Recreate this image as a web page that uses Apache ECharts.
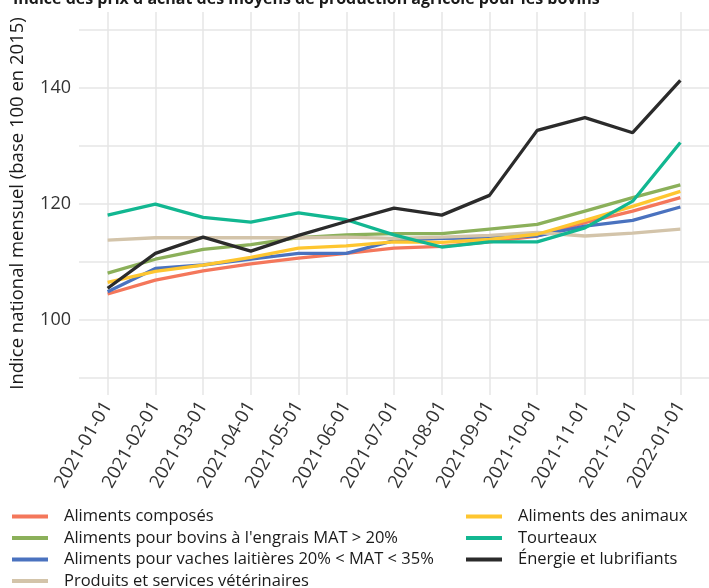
<!DOCTYPE html>
<html>
<head>
<meta charset="utf-8">
<script src="https://cdn.jsdelivr.net/npm/echarts@6/dist/echarts.min.js"></script>
<style>
  html, body { margin: 0; padding: 0; background: #fff; }
  #chart { width: 709px; height: 588px; }
</style>
</head>
<body>
<div id="chart"></div>
<script>
// mois (abscisse)
var dates = ['2021-01-01', '2021-02-01', '2021-03-01', '2021-04-01', '2021-05-01', '2021-06-01',
  '2021-07-01', '2021-08-01', '2021-09-01', '2021-10-01', '2021-11-01', '2021-12-01', '2022-01-01'];

// indices (base 100 en 2015)
var alimentsComposes = [104.4, 106.8, 108.4, 109.6, 110.6, 111.4, 112.3, 112.6, 113.4, 114.4, 116.7, 118.7, 121.0];
var alimentsAnimaux = [106.4, 108.3, 109.4, 110.7, 112.3, 112.7, 113.4, 113.3, 113.8, 114.7, 117.1, 119.5, 122.1];
var alimentsBovins = [108.0, 110.4, 112.1, 112.9, 114.1, 114.6, 114.8, 114.8, 115.6, 116.4, 118.7, 121.0, 123.2];
var tourteaux = [118.0, 119.9, 117.6, 116.8, 118.4, 117.2, 114.6, 112.5, 113.4, 113.4, 115.8, 120.4, 130.5];
var alimentsVaches = [104.8, 108.8, 109.4, 110.4, 111.4, 111.4, 113.6, 114.0, 114.1, 114.4, 116.1, 117.1, 119.4];
var energie = [105.4, 111.4, 114.2, 111.8, 114.5, 116.9, 119.2, 118.0, 121.4, 132.6, 134.8, 132.2, 141.2];
var veterinaires = [113.7, 114.1, 114.1, 114.1, 114.1, 114.2, 114.0, 114.2, 114.5, 115.0, 114.4, 114.9, 115.6];

var yGrid = [90, 100, 110, 120, 130, 140, 150];
var yLabels = [100, 120, 140];

var seriesDefs = [
  ['Aliments composés', alimentsComposes, '#f4775b'],
  ['Aliments pour bovins à l\'engrais MAT > 20%', alimentsBovins, '#8bb05a'],
  ['Aliments pour vaches laitières 20% < MAT < 35%', alimentsVaches, '#4a72bf'],
  ['Produits et services vétérinaires', veterinaires, '#d3c4aa'],
  ['Aliments des animaux', alimentsAnimaux, '#fec630'],
  ['Tourteaux', tourteaux, '#12b791'],
  ['Énergie et lubrifiants', energie, '#2b2b2b']
];

var font = 'Open Sans';
var xTicks = dates.map(function (d, i) { return i; });

var series = seriesDefs.map(function (s, k) {
  return {
    name: s[0],
    type: 'line',
    symbol: 'none',
    z: k === 6 ? 5 : 2,
    lineStyle: { width: 3.3, color: s[2] },
    itemStyle: { color: s[2] },
    data: s[1].map(function (v, i) { return [i, v]; })
  };
});

var legendBase = {
  orient: 'vertical',
  top: 506,
  height: 100,
  padding: 0,
  icon: 'rect',
  itemWidth: 36,
  itemHeight: 4,
  itemGap: 0.5,
  textStyle: { fontFamily: font, fontSize: 16.5, color: '#1a1a1a', lineHeight: 21, padding: [0, 0, 0, 11] }
};

var chart = echarts.init(document.getElementById('chart'));
chart.setOption({
  animation: false,
  title: {
    text: 'Indice des prix d\'achat des moyens de production agricole pour les bovins',
    left: 8,
    top: -14,
    textStyle: { fontFamily: font, fontSize: 16, fontWeight: 'bold', color: '#1a1a1a' }
  },
  legend: [
    Object.assign({}, legendBase, { left: 12, data: seriesDefs.slice(0, 4).map(function (s) { return s[0]; }) }),
    Object.assign({}, legendBase, { left: 466, data: seriesDefs.slice(4).map(function (s) { return s[0]; }) })
  ],
  grid: { left: 78, right: -6, top: 12, bottom: 193, containLabel: false },
  xAxis: {
    type: 'value',
    min: -0.6,
    max: 12.6,
    axisLine: { show: false },
    axisTick: { show: false, customValues: xTicks },
    splitLine: { show: true, lineStyle: { color: '#e6e6e6', width: 1.5 } },
    axisLabel: {
      customValues: xTicks,
      rotate: 60,
      margin: 8,
      fontFamily: font,
      fontSize: 18.5,
      color: '#333',
      formatter: function (v) { return dates[Math.round(v)]; }
    }
  },
  yAxis: {
    type: 'value',
    min: 87,
    max: 153,
    name: 'Indice national mensuel (base 100 en 2015)',
    nameLocation: 'middle',
    nameGap: 52,
    nameTextStyle: { fontFamily: font, fontSize: 18.5, color: '#1a1a1a' },
    axisLine: { show: false },
    axisTick: { show: false, customValues: yGrid },
    splitLine: { show: true, lineStyle: { color: '#e6e6e6', width: 1.5 } },
    axisLabel: {
      customValues: yLabels,
      margin: 8,
      fontFamily: font,
      fontSize: 18,
      color: '#333'
    }
  },
  series: series
});
</script>
</body>
</html>
